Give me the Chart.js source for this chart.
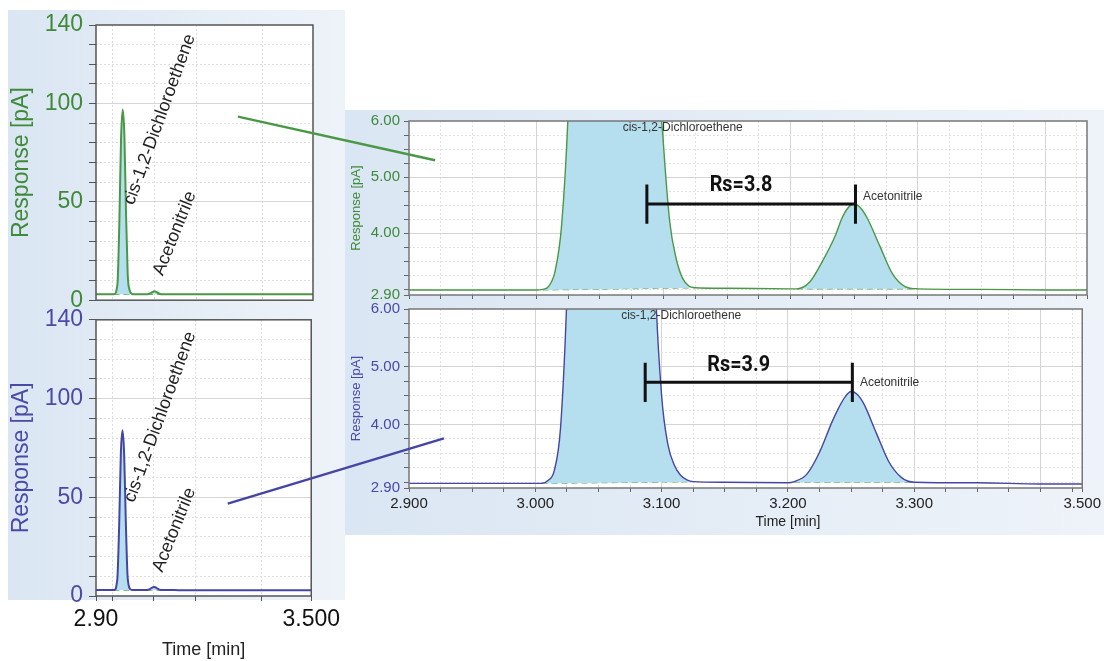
<!DOCTYPE html>
<html>
<head>
<meta charset="utf-8">
<script src="https://cdn.jsdelivr.net/npm/chart.js@4.4.1/dist/chart.umd.min.js"></script>
<style>
  html, body { margin: 0; padding: 0; background: #fff; }
  #page { position: relative; width: 1104px; height: 661px; overflow: hidden; }
  .panel { position: absolute; background: linear-gradient(90deg, #dae6f3 0%, #eef3f9 100%); }
  canvas { position: absolute; }
</style>
</head>
<body>
<div id="page">
  <div class="panel" style="left:8px;top:10px;width:337px;height:590px"></div>
  <div class="panel" style="left:345px;top:110px;width:759px;height:425px"></div>
  <canvas id="lt" width="345" height="320" style="left:0;top:0"></canvas>
  <canvas id="lb" width="345" height="361" style="left:0;top:300px"></canvas>
  <canvas id="rt" width="759" height="200" style="left:345px;top:108px"></canvas>
  <canvas id="rb" width="759" height="244" style="left:345px;top:296px"></canvas>
  <canvas id="links" width="1104" height="661" style="left:0;top:0"></canvas>
</div>
<script>
// retention time [min]
const times = [2.900, 2.950, 2.990, 3.000, 3.005, 3.010, 3.015, 3.020, 3.025, 3.030,
    3.040, 3.050, 3.060, 3.070, 3.080, 3.090, 3.095, 3.100, 3.105, 3.110,
    3.115, 3.120, 3.125, 3.150, 3.200, 3.205, 3.215, 3.225, 3.235, 3.240,
    3.245, 3.250, 3.255, 3.260, 3.270, 3.280, 3.290, 3.300, 3.350, 3.400,
    3.600, 3.800, 4.000, 4.200];

// response [pA], green run
const greenResponse = [2.99, 2.99, 2.99, 2.99, 3.00, 3.06, 3.34, 4.15, 6.1, 10,
    40, 82, 97, 84, 44, 13, 7.5, 5.6, 4.2, 3.55,
    3.2, 3.06, 3.03, 3.02, 3.01, 3.01, 3.13, 3.50, 3.95, 4.25,
    4.45, 4.52, 4.45, 4.28, 3.78, 3.28, 3.05, 3.01, 3.00, 2.99,
    2.99, 2.99, 2.99, 2.99];

// response [pA], blue run
const blueResponse = [2.98, 2.98, 2.98, 2.98, 2.98, 3.03, 3.2, 3.95, 6.2, 10,
    36, 72, 84, 72, 38, 11, 6.5, 4.5, 3.65, 3.3,
    3.12, 3.04, 3.01, 3.00, 2.99, 3.01, 3.14, 3.52, 4.05, 4.28,
    4.47, 4.57, 4.52, 4.36, 3.85, 3.35, 3.08, 3.00, 2.99, 2.97,
    2.97, 2.97, 2.97, 2.97];

// integration baselines (gap between the two peaks)
const baseTimes = [3.005, 3.125, 3.165, 3.205, 3.300];
const greenBase = [2.99, 3.03, null, 3.01, 3.01];
const blueBase = [2.98, 3.01, null, 3.00, 3.00];

const peakNames = ["cis-1,2-Dichloroethene", "Acetonitrile"];
const resolution = [3.8, 3.9];

// axes
const leftXTicks = [2.9, 3.0, 3.25, 3.5, 3.9, 4.2];
const leftXLabels = ["2.90", "", "", "", "", "3.500"];
const leftYLabelled = [0, 50, 100, 140];
const zoomYTicks = [2.9, 3.0, 3.25, 3.5, 3.75, 4.0, 4.25, 4.5, 4.75, 5.0, 5.25, 5.5, 5.75, 6.0];
const zoomYLabelled = [2.9, 4.0, 5.0, 6.0];
const zoomXLabelled = [2.9, 3.0, 3.1, 3.2, 3.3];
const zoomXEndLabel = "3.500";

const LEFT_X = [2.9, 4.2];
const ZOOM_X = [2.9, 3.433];

const GREEN = "#4a9845", GREEN_TXT = "#3f8a39";
const BLUE = "#4545a3", BLUE_TXT = "#4a4aa6";
const FILL = "#b5dfee", BASE_LINE = "#66a862";
const FONT = "'Liberation Sans', Arial, sans-serif";

const near = (a, b) => Math.abs(a - b) < 1e-6;

const decor = {
    id: "decor",
    beforeDraw(chart) {
        const { ctx, chartArea: a } = chart;
        ctx.save();
        ctx.fillStyle = "#fff";
        ctx.fillRect(a.left, a.top, a.width, a.height);
        ctx.restore();
    },
    afterDatasetsDraw(chart, args, opts) {
        const { ctx, chartArea: a } = chart;
        const x = chart.scales.x, y = chart.scales.y;
        ctx.save();
        ctx.strokeStyle = opts.frame || "#6e6e6e";
        ctx.lineWidth = 1.5;
        ctx.strokeRect(a.left, a.top, a.width, a.height);

        (opts.texts || []).forEach((t) => {
            ctx.save();
            ctx.translate(x.getPixelForValue(t.x), y.getPixelForValue(t.y));
            ctx.rotate(((t.angle || 0) * Math.PI) / 180);
            ctx.font = t.font;
            ctx.fillStyle = t.color || "#222";
            ctx.textAlign = t.align || "left";
            ctx.textBaseline = t.baseline || "alphabetic";
            ctx.fillText(t.text, 0, 0);
            ctx.restore();
        });

        const b = opts.bracket;
        if (b) {
            const x1 = x.getPixelForValue(b.x1), x2 = x.getPixelForValue(b.x2);
            const yc = y.getPixelForValue(b.y);
            const yt = y.getPixelForValue(b.y + b.half), yb = y.getPixelForValue(b.y - b.half);
            ctx.strokeStyle = "#111";
            ctx.lineWidth = 3;
            ctx.beginPath();
            ctx.moveTo(x1, yt); ctx.lineTo(x1, yb);
            ctx.moveTo(x2, yt); ctx.lineTo(x2, yb);
            ctx.moveTo(x1, yc); ctx.lineTo(x2, yc);
            ctx.stroke();
            ctx.fillStyle = "#111";
            ctx.font = "bold 22px Roboto, 'Liberation Sans', sans-serif";
            ctx.textAlign = "center";
            ctx.textBaseline = "alphabetic";
            ctx.translate(x.getPixelForValue(b.labelX), y.getPixelForValue(b.labelY));
            ctx.scale(0.9, 1);
            ctx.fillText(b.label, 0, 0);
        }
        ctx.restore();

        if (opts.xTitle) {
            ctx.save();
            ctx.fillStyle = "#222";
            ctx.font = `14px ${FONT}`;
            ctx.textAlign = "center";
            ctx.textBaseline = "middle";
            ctx.fillText(opts.xTitle.text, x.getPixelForValue(opts.xTitle.x), chart.height - 18);
            ctx.restore();
        }
    },
};

const trace = (vals) => times.map((t, i) => ({ x: t, y: vals[i] }));
const base = (vals) => baseTimes.map((t, i) => ({ x: t, y: vals[i] }));

function datasets(vals, baseVals, color, width) {
    return [
        {
            data: trace(vals),
            borderColor: color,
            borderWidth: width,
            backgroundColor: FILL,
            fill: "+1",
            pointRadius: 0,
            cubicInterpolationMode: "monotone",
        },
        {
            data: base(baseVals),
            borderColor: BASE_LINE,
            borderWidth: 1.2,
            borderDash: [6, 4],
            pointRadius: 0,
            fill: false,
            spanGaps: false,
        },
    ];
}

function leftChart(id, vals, baseVals, color, txtColor, showX, labels) {
    return new Chart(document.getElementById(id), {
        type: "line",
        data: { datasets: datasets(vals, baseVals, color, 2) },
        options: {
            responsive: false,
            animation: false,
            events: [],
            layout: { padding: { top: showX ? 18 : 25, right: 32, left: 0, bottom: 0 } },
            plugins: {
                legend: { display: false },
                tooltip: { enabled: false },
                decor: { frame: "#555", texts: labels },
            },
            scales: {
                x: {
                    type: "linear",
                    min: LEFT_X[0],
                    max: LEFT_X[1],
                    afterBuildTicks: (s) => { s.ticks = leftXTicks.map((v) => ({ value: v })); },
                    afterFit: (s) => { s.height = showX ? 65 : 18; },
                    grid: {
                        color: (c) => (c.tick && (near(c.tick.value, LEFT_X[0]) || near(c.tick.value, LEFT_X[1])) ? "rgba(0,0,0,0)" : "#dcdcdc"),
                        drawTicks: showX,
                        tickLength: 5,
                        tickColor: "#555",
                    },
                    border: { display: false, dash: [2, 2] },
                    ticks: {
                        display: showX,
                        autoSkip: false,
                        maxRotation: 0,
                        padding: 5,
                        font: { size: 23, family: FONT },
                        color: "#111",
                        callback: (v, i) => leftXLabels[i],
                    },
                    title: {
                        display: showX,
                        text: "Time [min]",
                        font: { size: 18, family: FONT },
                        color: "#222",
                        padding: { top: 0, bottom: 0 },
                    },
                },
                y: {
                    min: 0,
                    max: 140,
                    afterBuildTicks: (s) => {
                        const t = [];
                        for (let v = 0; v <= 140; v += 10) t.push({ value: v });
                        s.ticks = t;
                    },
                    afterFit: (s) => { s.width = 96; },
                    grid: {
                        color: (c) => {
                            if (!c.tick) return "#ddd";
                            const v = c.tick.value;
                            if (v === 0 || v === 140) return "rgba(0,0,0,0)";
                            return v % 50 === 0 ? "#d6d6d6" : "#e0e0e0";
                        },
                        tickLength: 7,
                        tickColor: "#555",
                    },
                    border: { display: false, dash: (c) => (c.tick && c.tick.value % 50 !== 0 ? [2, 2] : []) },
                    ticks: {
                        autoSkip: false,
                        padding: 6,
                        font: { size: 23, family: FONT },
                        color: txtColor,
                        callback: (v) => (leftYLabelled.includes(v) ? String(v) : ""),
                    },
                    title: {
                        display: true,
                        text: "Response [pA]",
                        font: { size: 23, family: FONT },
                        color: txtColor,
                        padding: { top: 8, bottom: 0 },
                    },
                },
            },
        },
        plugins: [decor],
    });
}

function zoomChart(id, vals, baseVals, color, txtColor, pad, xHeight, showX, extra) {
    const isMajorX = (v) => near(v * 10, Math.round(v * 10));
    return new Chart(document.getElementById(id), {
        type: "line",
        data: { datasets: datasets(vals, baseVals, color, 1.4) },
        options: {
            responsive: false,
            animation: false,
            events: [],
            layout: { padding: { top: pad.top, right: pad.right, left: 0, bottom: 0 } },
            plugins: {
                legend: { display: false },
                tooltip: { enabled: false },
                decor: Object.assign({ frame: "#777" }, extra),
            },
            scales: {
                x: {
                    type: "linear",
                    min: ZOOM_X[0],
                    max: ZOOM_X[1],
                    afterBuildTicks: (s) => {
                        const t = [];
                        for (let k = 0; ZOOM_X[0] + k * 0.025 < ZOOM_X[1] - 1e-6; k++) {
                            t.push({ value: +(ZOOM_X[0] + k * 0.025).toFixed(3) });
                        }
                        t.push({ value: ZOOM_X[1] });
                        s.ticks = t;
                    },
                    afterFit: (s) => { s.height = xHeight; },
                    grid: {
                        color: (c) => {
                            if (!c.tick) return "#ddd";
                            const v = c.tick.value;
                            if (near(v, ZOOM_X[0]) || near(v, ZOOM_X[1])) return "rgba(0,0,0,0)";
                            return isMajorX(v) ? "#d4d4d4" : "#e0e0e0";
                        },
                        tickLength: 4,
                        tickColor: "#666",
                    },
                    border: { display: false, dash: (c) => (c.tick && !isMajorX(c.tick.value) ? [2, 2] : []) },
                    ticks: {
                        display: showX,
                        autoSkip: false,
                        maxRotation: 0,
                        padding: 3,
                        font: { size: 15, family: FONT },
                        color: "#222",
                        callback: (v) => {
                            if (v >= ZOOM_X[1] - 1e-6) return zoomXEndLabel;
                            return zoomXLabelled.some((l) => near(l, v)) ? v.toFixed(3) : "";
                        },
                    },
                },
                y: {
                    min: 2.9,
                    max: 6.0,
                    afterBuildTicks: (s) => { s.ticks = zoomYTicks.map((v) => ({ value: v })); },
                    afterFit: (s) => { s.width = 64; },
                    grid: {
                        color: (c) => {
                            if (!c.tick) return "#ddd";
                            const v = c.tick.value;
                            if (near(v, 2.9) || near(v, 6.0)) return "rgba(0,0,0,0)";
                            return near(v, 4) || near(v, 5) ? "#d4d4d4" : "#e0e0e0";
                        },
                        tickLength: 5,
                        tickColor: "#666",
                    },
                    border: {
                        display: false,
                        dash: (c) => (c.tick && !(near(c.tick.value, 4) || near(c.tick.value, 5)) ? [2, 2] : []),
                    },
                    ticks: {
                        autoSkip: false,
                        padding: 4,
                        font: { size: 15, family: FONT },
                        color: txtColor,
                        callback: (v) => (zoomYLabelled.some((l) => near(l, v)) ? v.toFixed(2) : ""),
                    },
                    title: {
                        display: true,
                        text: "Response [pA]",
                        font: { size: 13, family: FONT },
                        color: txtColor,
                        padding: { top: 4, bottom: 0 },
                    },
                },
            },
        },
        plugins: [decor],
    });
}

const leftLabels = (cisX, cisY, acX, acY) => [
    { text: peakNames[0], x: cisX, y: cisY, angle: -70, font: `18px ${FONT}`, color: "#222" },
    { text: peakNames[1], x: acX, y: acY, angle: -68, font: `18px ${FONT}`, color: "#222" },
];

const lt = leftChart("lt", greenResponse, greenBase, GREEN, GREEN_TXT, false, leftLabels(3.125, 48, 3.3, 12));
const lb = leftChart("lb", blueResponse, blueBase, BLUE, BLUE_TXT, true, leftLabels(3.13, 47, 3.3, 11.6));

const rt = zoomChart("rt", greenResponse, greenBase, GREEN, GREEN_TXT, { top: 12, right: 17 }, 10, false, {
    texts: [
        { text: peakNames[0], x: 3.068, y: 5.88, font: `12px ${FONT}`, baseline: "middle", color: "#333" },
        { text: peakNames[1], x: 3.257, y: 4.66, font: `12px ${FONT}`, baseline: "middle", color: "#333" },
    ],
    bracket: { x1: 3.087, x2: 3.251, y: 4.52, half: 0.35, label: `Rs=${resolution[0]}`, labelX: 3.161, labelY: 4.75 },
});

const rb = zoomChart("rb", blueResponse, blueBase, BLUE, BLUE_TXT, { top: 13, right: 21 }, 52, true, {
    texts: [
        { text: peakNames[0], x: 3.068, y: 5.88, font: `12px ${FONT}`, baseline: "middle", color: "#333" },
        { text: peakNames[1], x: 3.257, y: 4.72, font: `12px ${FONT}`, baseline: "middle", color: "#333" },
    ],
    bracket: { x1: 3.087, x2: 3.251, y: 4.73, half: 0.34, label: `Rs=${resolution[1]}`, labelX: 3.161, labelY: 4.92 },
    xTitle: { text: "Time [min]", x: 3.2 },
});

// zoom connectors between overview and detail charts
const links = [
    { from: [lt, 3.75, 93.4], to: [rt, 2.9205, 5.3], color: GREEN },
    { from: [lb, 3.696, 46.8], to: [rb, 2.9276, 3.76], color: BLUE },
];
const pagePoint = ([chart, tx, ty]) => [
    chart.canvas.offsetLeft + chart.scales.x.getPixelForValue(tx),
    chart.canvas.offsetTop + chart.scales.y.getPixelForValue(ty),
];
const lctx = document.getElementById("links").getContext("2d");
links.forEach((l) => {
    const a = pagePoint(l.from), b = pagePoint(l.to);
    lctx.strokeStyle = l.color;
    lctx.lineWidth = 2.5;
    lctx.beginPath();
    lctx.moveTo(a[0], a[1]);
    lctx.lineTo(b[0], b[1]);
    lctx.stroke();
});
</script>
</body>
</html>
